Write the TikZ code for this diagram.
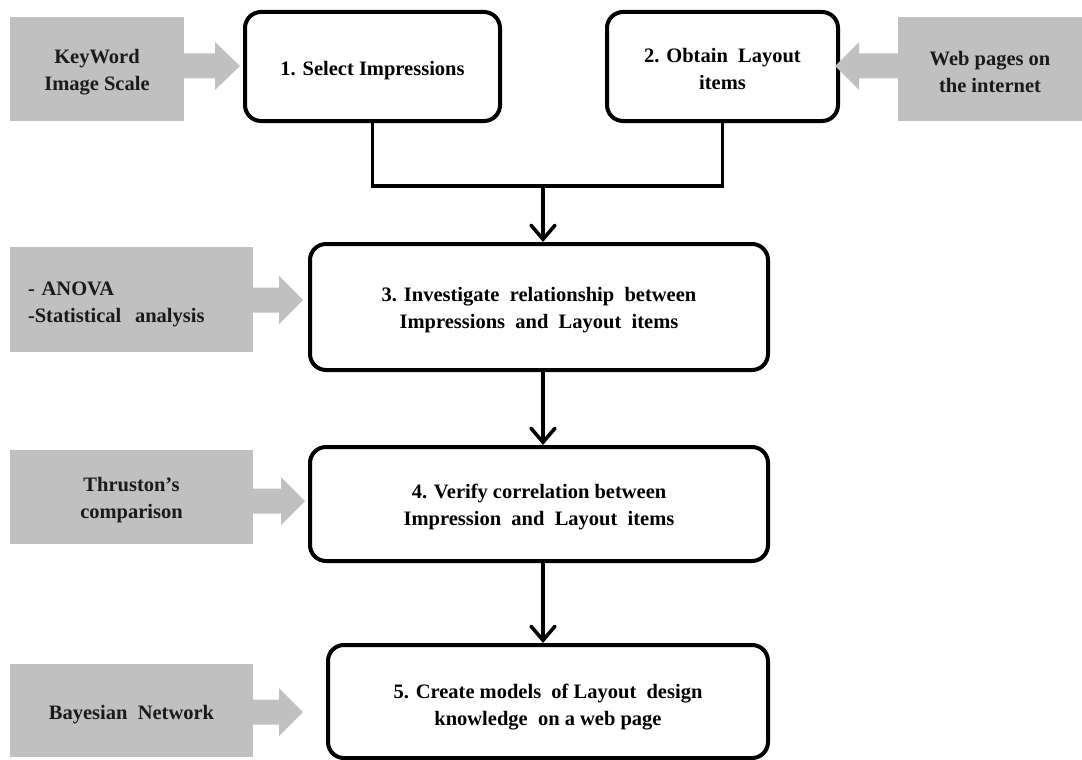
\documentclass[tikz,border=0pt]{standalone}
\usepackage{fontspec}
\setmainfont{Liberation Serif}
\usetikzlibrary{arrows.meta,calc}
\definecolor{boxgray}{HTML}{C0C0C0}
\definecolor{txtdark}{HTML}{1A1A1A}
\begin{document}
\begin{tikzpicture}[x=1pt,y=-1pt,
  stepbox/.style={draw=black, line width=4pt, rounded corners=16pt, fill=white,
    align=center, inner sep=0pt, font=\fontsize{20.5}{27}\selectfont\bfseries},
  graybox/.style={fill=boxgray, draw=none, inner sep=0pt, text=txtdark,
    font=\fontsize{20.5}{27}\selectfont\bfseries},
  oneline/.style={text height=22pt},
  twolines/.style={text height=47pt},
  arrowgray/.style={fill=boxgray, draw=none},
  flow/.style={draw=black, line width=3.6pt},
  flowarrow/.style={flow, -{Straight Barb[length=14pt,width=24pt,line cap=round]}}
]
\path[use as bounding box] (0,0) rectangle (1082,760);

% process boxes
\node[stepbox, oneline, minimum width=255pt, minimum height=109pt] (b1) at (372.5,66.5) {1. Select Impressions};
\node[stepbox, twolines, minimum width=231pt, minimum height=109pt] (b2) at (722.5,66.5) {2. Obtain\ \ Layout\\items};
\node[stepbox, twolines, minimum width=458pt, minimum height=126pt] (b3) at (539,307) {3. Investigate\ \ relationship\ \ between\\Impressions\ \ and\ \ Layout\ \ items};
\node[stepbox, twolines, minimum width=458pt, minimum height=114pt] (b4) at (539,504) {4. Verify correlation between\\Impression\ \ and\ \ Layout\ \ items};
\node[stepbox, twolines, minimum width=440pt, minimum height=113pt, text height=52pt] (b5) at (548,701.5) {5. Create models\ \ of Layout\ \ design\\knowledge\ \ on a web page};

% gray input boxes
\node[graybox, twolines, minimum width=174pt, minimum height=104pt, align=center] (g1) at (97,69) {KeyWord\\Image Scale};
\node[graybox, twolines, minimum width=184pt, minimum height=104pt, align=center] (g2) at (990,69) {Web pages on\\the internet};
\node[graybox, text height=24pt, minimum width=243pt, minimum height=105pt, align=left, text width=207pt] (g3) at (131.5,299.5) {- ANOVA\\-Statistical\ \ analysis};
\node[graybox, twolines, minimum width=243pt, minimum height=94pt, align=center] (g4) at (131.5,497) {Thruston’s\\comparison};
\node[graybox, oneline, minimum width=243pt, minimum height=93pt, align=center] (g5) at (131.5,710.5) {Bayesian\ \ Network};

% gray block arrows
\fill[arrowgray] (g1.east |- 0,53.5) -- (215,53.5) -- (215,42) -- (240,66) -- (215,90) -- (215,78.5) -- (g1.east |- 0,78.5) -- cycle;
\fill[arrowgray] (g2.west |- 0,53.5) -- (859,53.5) -- (859,42) -- (835,66) -- (859,90) -- (859,78.5) -- (g2.west |- 0,78.5) -- cycle;
\fill[arrowgray] (g3.east |- 0,287.5) -- (279,287.5) -- (279,276) -- (303,300) -- (279,324) -- (279,312.5) -- (g3.east |- 0,312.5) -- cycle;
\fill[arrowgray] (g4.east |- 0,488.5) -- (281,488.5) -- (281,477) -- (305,501) -- (281,525) -- (281,513.5) -- (g4.east |- 0,513.5) -- cycle;
\fill[arrowgray] (g5.east |- 0,699.5) -- (279,699.5) -- (279,688) -- (303,712) -- (279,736) -- (279,724.5) -- (g5.east |- 0,724.5) -- cycle;

% connectors
\coordinate (j) at (543,186);
\draw[flow, line join=miter] (b1.south) -- (b1.south |- j) -- (b2.south |- j) -- (b2.south);
\draw[flowarrow] (j) -- (j |- b3.north);
\draw[flowarrow] (j |- b3.south) -- (j |- b4.north);
\draw[flowarrow] (j |- b4.south) -- (j |- b5.north);
\end{tikzpicture}
\end{document}
